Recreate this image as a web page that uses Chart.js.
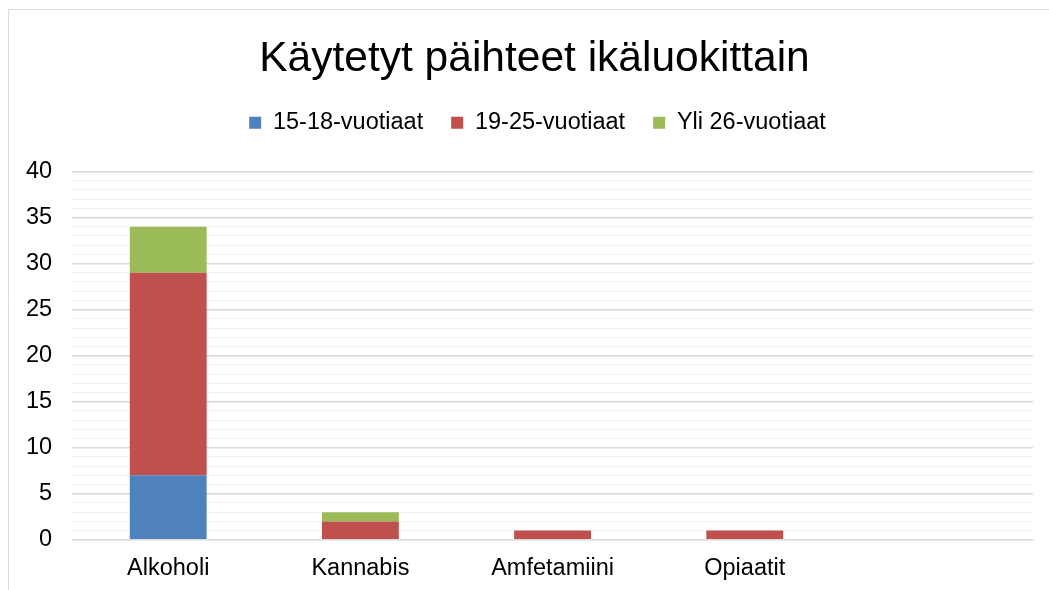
<!DOCTYPE html>
<html>
<head>
<meta charset="utf-8">
<script src="https://cdn.jsdelivr.net/npm/chart.js@4/dist/chart.umd.min.js"></script>
<style>
  html, body { margin: 0; padding: 0; background: #fff; }
  #wrap { width: 1049px; height: 590px; position: relative; }
</style>
</head>
<body>
<div id="wrap"><canvas id="chart" width="1049" height="590"></canvas></div>
<script>
const categories = ["Alkoholi", "Kannabis", "Amfetamiini", "Opiaatit", ""];
const seriesNames = ["15-18-vuotiaat", "19-25-vuotiaat", "Yli 26-vuotiaat"];
const age15to18 = [7, 0, 0, 0, null];
const age19to25 = [22, 2, 1, 1, null];
const ageOver26 = [5, 1, 0, 0, null];
const seriesColors = ["#4f81bd", "#c0504d", "#9bbb59"];

const fontFamily = "'Liberation Sans', Arial, sans-serif";

// frame lines of the chart object (only top and left are visible)
const framePlugin = {
  id: "frame",
  beforeDraw(chart) {
    const ctx = chart.ctx;
    ctx.save();
    ctx.strokeStyle = "#d9d9d9";
    ctx.lineWidth = 1;
    ctx.beginPath();
    ctx.moveTo(8.5, 590);
    ctx.lineTo(8.5, 9.5);
    ctx.lineTo(1049, 9.5);
    ctx.stroke();
    ctx.restore();
  },
};

// extra space below the legend, and nudge title / legend right a bit
function shifted(box, dx) {
  const draw = box.draw;
  box.draw = function (...args) {
    this.ctx.save();
    this.ctx.translate(dx, 0);
    draw.apply(this, args);
    this.ctx.restore();
  };
}
const headerTweaks = {
  id: "headerTweaks",
  afterInit(chart) {
    const fit = chart.legend.fit;
    chart.legend.fit = function () {
      fit.call(this);
      this.height += 27;
    };
    shifted(chart.titleBlock, 15);
    shifted(chart.legend, 18);
  },
};

const ctx = document.getElementById("chart").getContext("2d");
new Chart(ctx, {
  type: "bar",
  data: {
    labels: categories,
    datasets: [
      { label: seriesNames[0], data: age15to18, backgroundColor: seriesColors[0] },
      { label: seriesNames[1], data: age19to25, backgroundColor: seriesColors[1] },
      { label: seriesNames[2], data: ageOver26, backgroundColor: seriesColors[2] },
    ],
  },
  options: {
    responsive: false,
    animation: false,
    layout: { padding: { left: 6, right: 16, top: 34, bottom: 0 } },
    datasets: {
      bar: { categoryPercentage: 1, barPercentage: 0.4 },
    },
    plugins: {
      title: {
        display: true,
        text: "Käytetyt päihteet ikäluokittain",
        color: "#000",
        font: { family: fontFamily, size: 42.5, weight: "normal" },
        padding: { top: 0, bottom: -2 },
      },
      legend: {
        position: "top",
        labels: {
          color: "#000",
          font: { family: fontFamily, size: 23.5 },
          boxWidth: 12,
          boxHeight: 12,
          padding: 28,
        },
      },
      tooltip: { enabled: false },
    },
    scales: {
      x: {
        stacked: true,
        grid: { display: false },
        border: { display: true, color: "#d9d9d9", width: 1 },
        ticks: { color: "#000", font: { family: fontFamily, size: 23.5 }, padding: 7 },
      },
      y: {
        stacked: true,
        min: 0,
        max: 40,
        border: { display: false },
        grid: {
          drawTicks: false,
          color: (c) => (c.tick && c.tick.value % 5 === 0 ? "#d9d9d9" : "#f0f0f0"),
          lineWidth: (c) => (c.tick && c.tick.value % 5 === 0 ? 1.5 : 1),
        },
        ticks: {
          stepSize: 1,
          autoSkip: false,
          color: "#000",
          padding: 20,
          font: { family: fontFamily, size: 23.5 },
          callback: (v) => (v % 5 === 0 ? v : ""),
        },
      },
    },
  },
  plugins: [framePlugin, headerTweaks],
});
</script>
</body>
</html>
